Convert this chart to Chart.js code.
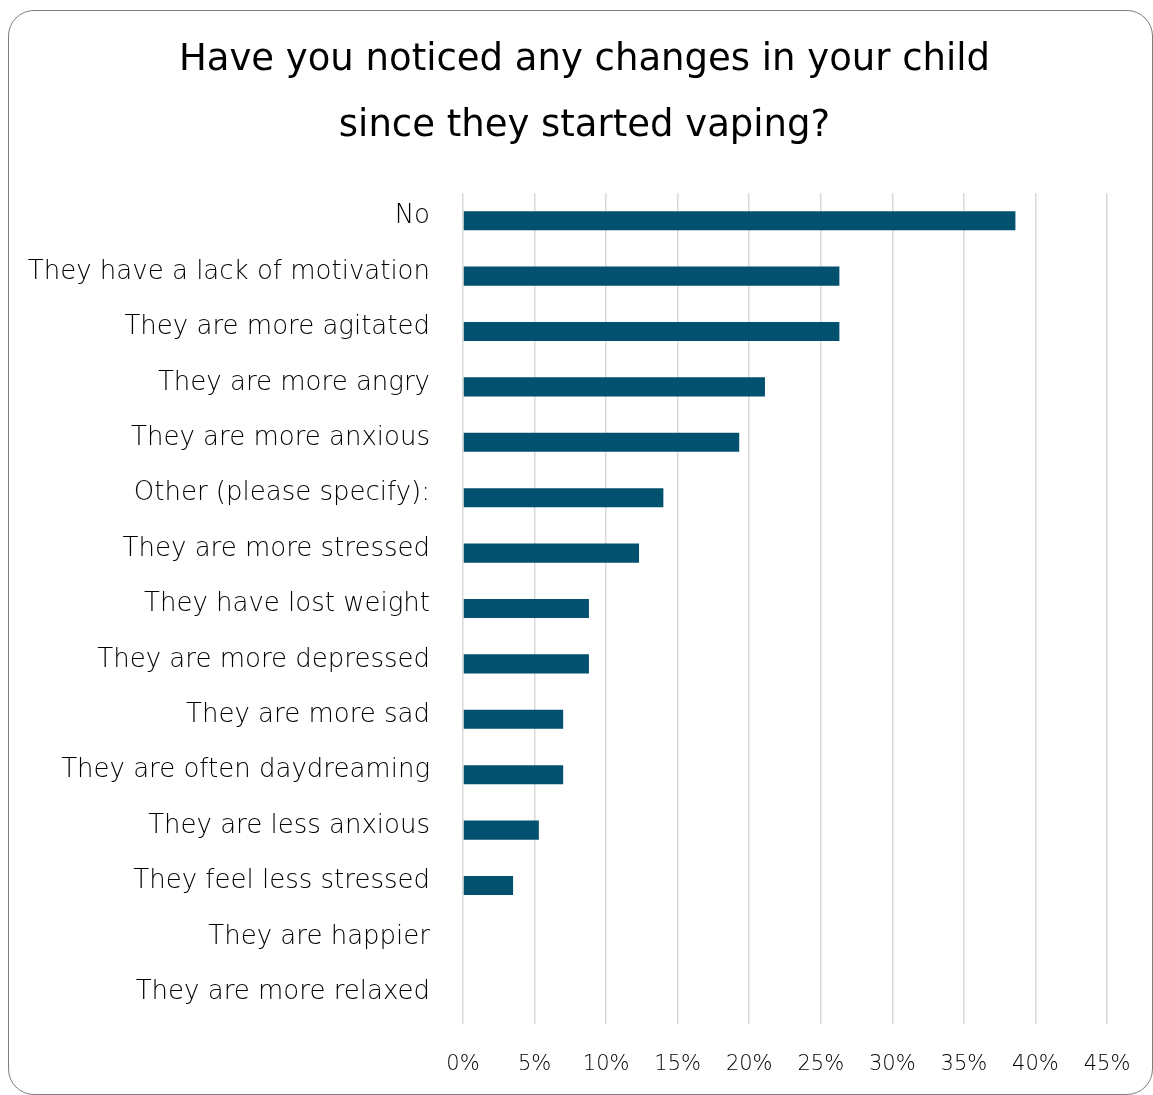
<!DOCTYPE html>
<html>
<head>
<meta charset="utf-8">
<script src="https://cdn.jsdelivr.net/npm/chart.js@4"></script>
<style>
    html, body { margin: 0; padding: 0; background: #fff; overflow: hidden; }
    .frame {
        position: absolute;
        left: 8px; top: 10px;
        width: 1143px; height: 1083px;
        border: 1.5px solid #7f7f7f;
        border-radius: 26px;
    }
    #chart { position: absolute; left: 0; top: 0; }
</style>
</head>
<body>
<div class="frame"></div>
<canvas id="chart" width="1153" height="1095"></canvas>
<script>
const titleLines = ['Have you noticed any changes in your child', 'since they started vaping?'];

const categories = [
    'No',
    'They have a lack of motivation',
    'They are more agitated',
    'They are more angry',
    'They are more anxious',
    'Other (please specify):',
    'They are more stressed',
    'They have lost weight',
    'They are more depressed',
    'They are more sad',
    'They are often daydreaming',
    'They are less anxious',
    'They feel less stressed',
    'They are happier',
    'They are more relaxed'
];

// share of respondents, in percent
const shares = [38.6, 26.3, 26.3, 21.1, 19.3, 14.0, 12.3, 8.8, 8.8, 7.0, 7.0, 5.3, 3.5, 0, 0];

const axisMax = 45;
const axisStep = 5;

const fontFamily = '"DejaVu Sans", "Open Sans", sans-serif';

// centre the title over the whole card instead of over the plot columns
const cardTitle = {
    id: 'cardTitle',
    afterLayout(chart) {
        const block = chart.titleBlock;
        if (!block) return;
        block.left = 16;
        block.right = chart.width;
        block.width = block.right - block.left;
    }
};

document.addEventListener('DOMContentLoaded', function() {
    const ctx = document.getElementById('chart').getContext('2d');
    new Chart(ctx, {
        type: 'bar',
        data: {
            labels: categories,
            datasets: [{
                data: shares,
                backgroundColor: '#02516e',
                categoryPercentage: 1,
                barPercentage: 0.345
            }]
        },
        options: {
            indexAxis: 'y',
            responsive: false,
            animation: false,
            layout: {
                padding: { left: 0, right: 46, top: 0, bottom: 0 }
            },
            plugins: {
                legend: { display: false },
                tooltip: { enabled: false },
                title: {
                    display: true,
                    text: titleLines,
                    color: '#000',
                    font: { family: fontFamily, size: 37, weight: 'normal', lineHeight: 66 / 37 },
                    padding: { top: 27, bottom: 34 }
                }
            },
            scales: {
                x: {
                    min: 0,
                    max: axisMax,
                    afterFit: function(scale) {
                        scale.height = 71;
                        // the end labels fit inside the layout padding already
                        scale.paddingLeft = 0;
                        scale.paddingRight = 0;
                    },
                    ticks: {
                        stepSize: axisStep,
                        padding: 28,
                        color: '#000',
                        font: { family: fontFamily, size: 21, weight: 300 },
                        callback: function(value) { return value + '%'; }
                    },
                    grid: { color: '#d9d9d9', lineWidth: 1.5, drawTicks: false },
                    border: { display: false }
                },
                y: {
                    afterFit: function(scale) { scale.width = 463; },
                    ticks: {
                        padding: 33,
                        labelOffset: -4,
                        color: '#000',
                        autoSkip: false,
                        font: { family: fontFamily, size: 26, weight: 300 }
                    },
                    grid: { display: false, drawTicks: false },
                    border: { display: false }
                }
            }
        },
        plugins: [cardTitle]
    });
});
</script>
</body>
</html>
